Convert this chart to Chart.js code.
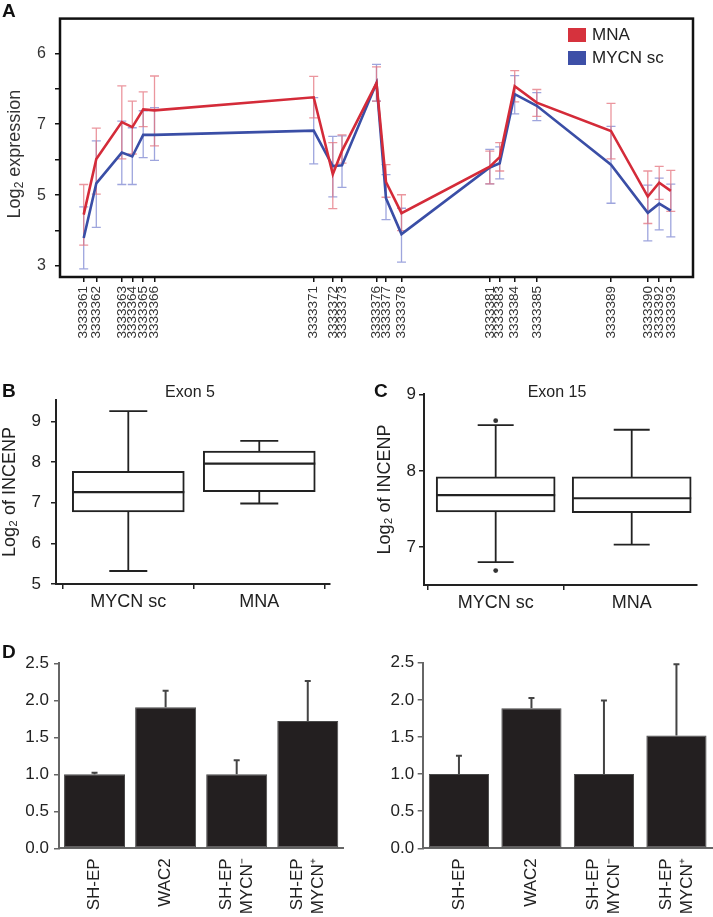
<!DOCTYPE html>
<html><head><meta charset="utf-8">
<script src="https://cdn.jsdelivr.net/npm/chart.js@4/dist/chart.umd.min.js"></script>
<style>
body{margin:0;background:#fff;}
#wrap{position:relative;width:713px;height:917px;overflow:hidden;font-family:"Liberation Sans",Arial,sans-serif;color:#222;background:#fff}
canvas{position:absolute}
.pl{position:absolute;font-weight:bold;font-size:19px;line-height:19px;color:#111}
.ttl{position:absolute;font-size:16px;line-height:17px;text-align:center;color:#222}
.lg{position:absolute;font-size:17px;line-height:18px;color:#222}
.sw{position:absolute;width:18px;height:14px}
.yt{position:absolute;width:160px;height:20px;line-height:20px;font-size:18px;text-align:center;color:#333;transform:rotate(-90deg);white-space:nowrap}
.yt sub{font-size:12px;vertical-align:-3px;line-height:0}
</style></head><body>
<div id="wrap">
<canvas id="cA" width="713" height="365" style="left:0;top:0"></canvas>
<canvas id="cB" width="350" height="240" style="left:0;top:380px"></canvas>
<canvas id="cC" width="363" height="240" style="left:350px;top:380px"></canvas>
<canvas id="cD1" width="355" height="277" style="left:0;top:640px"></canvas>
<canvas id="cD2" width="358" height="277" style="left:355px;top:640px"></canvas>
<div class="pl" style="left:2px;top:1px">A</div>
<div class="pl" style="left:2px;top:381px">B</div>
<div class="pl" style="left:374px;top:381px">C</div>
<div class="pl" style="left:2px;top:642px">D</div>
<div class="yt" style="left:-66.5px;top:143.5px">Log<sub>2</sub> expression</div>
<div class="ttl" style="left:140px;top:383px;width:100px">Exon 5</div>
<div class="ttl" style="left:507px;top:383px;width:100px">Exon 15</div>
<div class="sw" style="left:568px;top:28px;background:#d6323d"></div>
<div class="lg" style="left:592px;top:26px">MNA</div>
<div class="sw" style="left:568px;top:51px;background:#3d4fa7"></div>
<div class="lg" style="left:592px;top:49px">MYCN sc</div>
</div>
<script>
// ---------- Panel A data ----------
const probeIds = ['3333361','3333362','3333363','3333364','3333365','3333366','3333371','3333372','3333373','3333376','3333377','3333378','3333381','3333383','3333384','3333385','3333389','3333390','3333392','3333393'];
const probeLocus = [23.7,36.3,61.8,72.3,83.2,94.5,253.7,272.8,282,316.5,326,341.5,429.8,439.7,454.7,476.8,551,587.8,599.2,610.8];
const mnaMean = [4.45,6.02,7.06,6.92,7.42,7.39,7.76,5.59,6.25,8.16,5.37,4.49,5.80,6.07,8.07,7.61,6.81,4.96,5.35,5.12];
const mnaLow  = [3.59,5.03,6.02,6.16,6.93,6.39,7.18,4.62,5.90,7.65,4.94,4.00,5.32,5.68,7.63,7.22,6.02,4.20,4.88,4.54];
const mnaHigh = [5.30,6.89,8.08,7.65,7.91,8.36,8.35,6.48,6.70,8.62,5.86,5.01,6.24,6.48,8.51,7.98,7.59,5.68,5.81,5.70];
const scMean  = [3.79,5.33,6.20,6.09,6.70,6.70,6.82,5.82,5.84,8.16,4.91,3.90,5.78,5.90,7.85,7.52,5.86,4.50,4.76,4.56];
const scLow   = [2.92,4.09,5.30,5.30,6.06,5.98,5.88,4.95,5.22,7.65,4.31,3.11,5.32,5.46,7.29,7.10,4.77,3.71,4.02,3.82];
const scHigh  = [4.67,6.53,7.09,6.90,7.38,7.47,7.75,6.66,6.67,8.69,5.58,4.63,6.29,6.36,8.37,7.89,6.94,5.28,5.48,5.31];
const yTickValsA = [3,4,5,6,7,8,9];
const yTickTextA = ['3','','5','','7','','6'];

// ---------- Panels B & C data ----------
const boxCats = ['MYCN sc','MNA'];
const exon5Min = [5.32,6.98], exon5Q1 = [6.77,7.27], exon5Med = [7.26,7.96], exon5Q3 = [7.77,8.27], exon5Max = [9.25,8.52];
const exon15Min = [6.80,7.03], exon15Q1 = [7.46,7.45], exon15Med = [7.68,7.64], exon15Q3 = [7.92,7.92], exon15Max = [8.60,8.54];
const exon15Outliers = [[8.66,6.69],[]];
const yTicksB = [5,6,7,8,9];
const yTicksC = [7,8,9];

// ---------- Panel D data ----------
const cellLines = [['SH-EP'],['WAC2'],['SH-EP','MYCN\u207B'],['SH-EP','MYCN\u207A']];
const dLeftVals = [1.0,1.905,1.0,1.72];
const dLeftErr  = [0.02,0.225,0.19,0.54];
const dRightVals = [1.0,1.885,1.0,1.52];
const dRightErr  = [0.245,0.14,0.99,0.96];
const yTicksD = [0,0.5,1.0,1.5,2.0,2.5];

const FONT = '"Liberation Sans", Arial, sans-serif';
Chart.defaults.font.family = FONT;
Chart.defaults.color = '#222';

const frame = {id:'frame', afterDraw(chart){
  const a = chart.chartArea, ctx = chart.ctx;
  ctx.save(); ctx.strokeStyle='#111'; ctx.lineWidth=2.5;
  ctx.strokeRect(a.left, a.top, a.right-a.left, a.bottom-a.top);
  ctx.restore();
}};

const errA = {id:'errA', beforeDatasetsDraw(chart){
  const {ctx, scales:{x,y}} = chart;
  const sets = [
    {low:scLow, high:scHigh, color:'rgba(125,135,210,0.75)'},
    {low:mnaLow, high:mnaHigh, color:'rgba(228,115,125,0.75)'}
  ];
  ctx.save(); ctx.lineWidth=1.3;
  sets.forEach(s=>{
    ctx.strokeStyle = s.color;
    probeLocus.forEach((p,i)=>{
      const px = x.getPixelForValue(p), y1 = y.getPixelForValue(s.low[i]), y2 = y.getPixelForValue(s.high[i]);
      ctx.beginPath();
      ctx.moveTo(px,y1); ctx.lineTo(px,y2);
      ctx.moveTo(px-4.5,y1); ctx.lineTo(px+4.5,y1);
      ctx.moveTo(px-4.5,y2); ctx.lineTo(px+4.5,y2);
      ctx.stroke();
    });
  });
  ctx.restore();
}};

new Chart(document.getElementById('cA'), {
  type:'line',
  data:{datasets:[
    {label:'MNA', data: probeLocus.map((x,i)=>({x, y:mnaMean[i]})), borderColor:'#d42b39', borderWidth:2.6, pointRadius:0, tension:0},
    {label:'MYCN sc', data: probeLocus.map((x,i)=>({x, y:scMean[i]})), borderColor:'#3a4ea6', borderWidth:2.6, pointRadius:0, tension:0}
  ]},
  options:{
    responsive:false, animation:false, events:[], devicePixelRatio:1,
    layout:{padding:{top:14,right:20,left:0,bottom:0}},
    plugins:{legend:{display:false}, tooltip:{enabled:false}},
    scales:{
      x:{type:'linear', min:0, max:633,
        afterBuildTicks:s=>{s.ticks = probeLocus.map(v=>({value:v}));},
        afterFit:s=>{s.height = 88;},
        grid:{drawOnChartArea:false, tickLength:5, color:'#111', lineWidth:1.5},
        border:{display:false},
        ticks:{autoSkip:false, maxRotation:90, minRotation:90, padding:4, font:{size:13.5}, color:'#333',
          callback:(v,i)=>probeIds[i]}},
      y:{min:2.69, max:9.98,
        afterBuildTicks:s=>{s.ticks = yTickValsA.map(v=>({value:v}));},
        afterFit:s=>{s.width = 60;},
        grid:{drawOnChartArea:false, tickLength:5, color:'#111', lineWidth:1.5},
        border:{display:false},
        ticks:{padding:9, font:{size:16}, color:'#333', callback:(v,i)=>yTickTextA[i]}}
    }
  },
  plugins:[errA, frame]
});

function boxPlugin(mins, q1s, meds, q3s, maxs, capW, boxW){
  return {id:'box', afterDatasetsDraw(chart){
    const {ctx, scales:{x,y}} = chart;
    ctx.save(); ctx.strokeStyle='#222';
    mins.forEach((m,i)=>{
      const px = x.getPixelForValue(i);
      ctx.lineWidth = 1.8;
      ctx.beginPath();
      ctx.moveTo(px, y.getPixelForValue(q3s[i])); ctx.lineTo(px, y.getPixelForValue(maxs[i]));
      ctx.moveTo(px, y.getPixelForValue(q1s[i])); ctx.lineTo(px, y.getPixelForValue(mins[i]));
      ctx.moveTo(px-capW/2, y.getPixelForValue(maxs[i])); ctx.lineTo(px+capW/2, y.getPixelForValue(maxs[i]));
      ctx.moveTo(px-capW/2, y.getPixelForValue(mins[i])); ctx.lineTo(px+capW/2, y.getPixelForValue(mins[i]));
      ctx.stroke();
      ctx.lineWidth = 2.2;
      ctx.beginPath();
      ctx.moveTo(px-boxW/2, y.getPixelForValue(meds[i])); ctx.lineTo(px+boxW/2, y.getPixelForValue(meds[i]));
      ctx.stroke();
    });
    ctx.restore();
  }};
}

function boxChart(id, mins,q1s,meds,q3s,maxs, yTicks, ymin, ymax, xmin, xmax, yw, xh, padTop, padRight, boxW, capW, tickPad, titleTop, outliers){
  const datasets = [{type:'bar', data: q1s.map((q,i)=>({x:i, y:[q, q3s[i]]})),
      backgroundColor:'#fff', borderColor:'#222', borderWidth:2, borderSkipped:false, barThickness:boxW}];
  if (outliers){
    const pts = [];
    outliers.forEach((arr,i)=>arr.forEach(v=>pts.push({x:i,y:v})));
    datasets.push({type:'scatter', data:pts, pointRadius:2.4, backgroundColor:'#333', borderColor:'#333', borderWidth:0});
  }
  new Chart(document.getElementById(id), {
    type:'bar',
    data:{datasets},
    options:{
      responsive:false, animation:false, events:[], devicePixelRatio:1,
      layout:{padding:{top:padTop, right:padRight, left:0, bottom:0}},
      plugins:{legend:{display:false}, tooltip:{enabled:false}},
      scales:{
        x:{type:'linear', min:xmin, max:xmax, offset:false,
          afterBuildTicks:s=>{s.ticks = boxCats.map((c,i)=>({value:i}));},
          afterFit:s=>{s.height = xh;},
          grid:{drawOnChartArea:false, tickLength:5, color:'#222', lineWidth:1.5},
          border:{display:true, color:'#222', width:2},
          ticks:{padding:2, font:{size:18}, color:'#222', callback:(v,i)=>boxCats[i]}},
        y:{min:ymin, max:ymax,
          afterBuildTicks:s=>{s.ticks = yTicks.map(v=>({value:v}));},
          afterFit:s=>{s.width = yw;},
          grid:{drawOnChartArea:false, tickLength:5, color:'#222', lineWidth:1.5},
          border:{display:true, color:'#222', width:2},
          ticks:{padding:tickPad, font:{size:17}, color:'#222'},
          title:{display:true, text:'Log\u2082 of INCENP', font:{size:18, lineHeight:1}, padding:{top:titleTop,bottom:0}, color:'#222'}}
      }
    },
    plugins:[boxPlugin(mins,q1s,meds,q3s,maxs,capW,boxW)]
  });
}

boxChart('cB', exon5Min,exon5Q1,exon5Med,exon5Q3,exon5Max, yTicksB, 5, 9.52, -0.552, 1.54, 56, 36, 14, 20, 112, 38, 10, 1, null);
boxChart('cC', exon15Min,exon15Q1,exon15Med,exon15Q3,exon15Max, yTicksC, 6.5, 9.01, -0.527, 1.48, 74, 35, 14, 16, 119, 36, 3, 26, exon15Outliers);

function barErr(vals, errs){
  return {id:'barErr', afterDatasetsDraw(chart){
    const {ctx, scales:{x,y}} = chart;
    ctx.save(); ctx.strokeStyle='#444'; ctx.lineWidth=2;
    vals.forEach((v,i)=>{
      const px = x.getPixelForValue(i), y1 = y.getPixelForValue(v), y2 = y.getPixelForValue(v+errs[i]);
      ctx.beginPath(); ctx.moveTo(px,y1); ctx.lineTo(px,y2);
      ctx.moveTo(px-3,y2); ctx.lineTo(px+3,y2); ctx.stroke();
    });
    ctx.restore();
  }};
}

// rotated, centred multi-line category labels
const rotLabels = {id:'rotLabels', afterDraw(chart){
  const {ctx, scales:{x}} = chart;
  const lh = 21, top = chart.chartArea.bottom + 10;
  ctx.save();
  ctx.fillStyle = '#222';
  ctx.font = '17px ' + FONT;
  ctx.textAlign = 'right';
  ctx.textBaseline = 'middle';
  cellLines.forEach((lines,i)=>{
    const px = x.getPixelForValue(i);
    ctx.save();
    ctx.translate(px, top);
    ctx.rotate(-Math.PI/2);
    lines.forEach((t,j)=>{ ctx.fillText(t, 0, (j - (lines.length-1)/2) * lh); });
    ctx.restore();
  });
  ctx.restore();
}};

function barChart(id, vals, errs, yw, padTop, padRight, barPct, tickPad){
  new Chart(document.getElementById(id), {
    type:'bar',
    data:{labels:cellLines, datasets:[{data:vals, backgroundColor:'#231f20', borderColor:'#4a4a4a', borderWidth:1, borderSkipped:false, barPercentage:barPct, categoryPercentage:1}]},
    options:{
      responsive:false, animation:false, events:[], devicePixelRatio:1,
      layout:{padding:{top:padTop, right:padRight, left:0, bottom:0}},
      plugins:{legend:{display:false}, tooltip:{enabled:false}},
      scales:{
        x:{afterFit:s=>{s.height = 68.7;},
          grid:{display:false},
          border:{display:true, color:'#666', width:2},
          ticks:{display:false}},
        y:{min:0, max:2.5,
          afterBuildTicks:s=>{s.ticks = yTicksD.map(v=>({value:v}));},
          afterFit:s=>{s.width = yw;},
          grid:{drawOnChartArea:false, tickLength:5, color:'#666', lineWidth:1.5},
          border:{display:true, color:'#666', width:2},
          ticks:{padding:tickPad, font:{size:17}, color:'#222', callback:v=>v.toFixed(1)}}
      }
    },
    plugins:[barErr(vals, errs), rotLabels]
  });
}
barChart('cD1', dLeftVals, dLeftErr, 59, 23.3, 11.7, 0.858, 5);
barChart('cD2', dRightVals, dRightErr, 67.7, 22.7, 0.3, 0.83, 3.5);
</script>
</body></html>
